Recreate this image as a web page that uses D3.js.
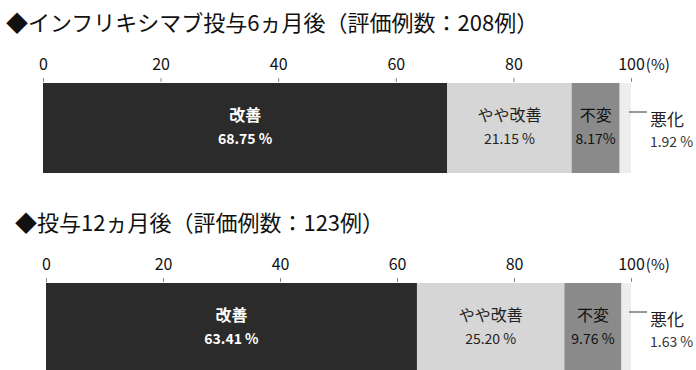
<!DOCTYPE html>
<html><head><meta charset="utf-8">
<script src="https://cdn.jsdelivr.net/npm/d3@7"></script>
<style>
html,body{margin:0;padding:0;background:#fff;}
svg{display:block;}
text{font-family:"Noto Sans CJK JP","Noto Sans",sans-serif;}
</style></head>
<body>
<script>
const categories = ["改善", "やや改善", "不変", "悪化"];
const titles = ["◆インフリキシマブ投与6ヵ月後（評価例数：208例）", "◆投与12ヵ月後（評価例数：123例）"];
const values6 = [68.75, 21.15, 8.17, 1.92];
const values12 = [63.41, 25.20, 9.76, 1.63];
const labels6 = ["68.75 %", "21.15 %", "8.17%", "1.92 %"];
const labels12 = ["63.41 %", "25.20 %", "9.76 %", "1.63 %"];
const tickValues = [0, 20, 40, 60, 80, 100];

const W = 696, H = 370;
const svg = d3.select("body").append("svg").attr("width", W).attr("height", H);

const color = d3.scaleOrdinal().domain(categories).range(["#2b2b2b", "#d6d6d6", "#8a8a8a", "#ededed"]);
const textColor = d3.scaleOrdinal().domain(categories).range(["#ffffff", "#222222", "#111111", "#222222"]);

const blocks = [
  {title: titles[0], values: values6, labels: labels6, y0: 0, titleX: 6, x0: 43, x1: 631},
  {title: titles[1], values: values12, labels: labels12, y0: 200, titleX: 15, x0: 46, x1: 631}
];

const numFont = "Liberation Sans, Arial, sans-serif";

blocks.forEach(b => {
  const g = svg.append("g").attr("transform", `translate(0,${b.y0})`);
  g.append("text").attr("x", b.titleX).attr("y", 31)
    .attr("font-size", 22).attr("fill", "#111").text(b.title);

  const x = d3.scaleLinear().domain([0, 100]).range([b.x0, b.x1]);
  const axis = d3.axisTop(x).tickValues(tickValues).tickSize(4).tickPadding(8).tickFormat(d3.format("d"));
  const ag = g.append("g").attr("transform", "translate(0,82)").call(axis);
  ag.select(".domain").remove();
  ag.selectAll(".tick line").attr("stroke", "#888");
  ag.selectAll(".tick text").attr("font-size", 16).attr("fill", "#111")
    .attr("font-family", numFont);
  const last = ag.selectAll(".tick").filter(d => d === 100);
  const lt = last.select("text");
  const w = lt.node().getComputedTextLength();
  last.append("text").attr("x", w / 2 + 1).attr("y", -12)
    .attr("font-size", 15).attr("fill", "#111").attr("text-anchor", "start")
    .attr("font-family", numFont)
    .text("(%)");

  const barY = 83, barH = 90;
  let cum = 0;
  const segs = b.values.map((v, i) => {
    const s = {cat: categories[i], v, start: cum, end: cum + v, label: b.labels[i]};
    cum += v;
    return s;
  });
  g.selectAll("rect.seg").data(segs).join("rect").attr("class", "seg")
    .attr("x", d => x(d.start)).attr("y", barY)
    .attr("width", d => x(d.end) - x(d.start)).attr("height", barH)
    .attr("fill", d => color(d.cat));

  const inner = segs.slice(0, 3);
  const lg = g.selectAll("g.lbl").data(inner).join("g").attr("class", "lbl")
    .attr("transform", d => `translate(${(x(d.start) + x(d.end)) / 2},${barY + barH / 2})`);
  lg.append("text").attr("text-anchor", "middle").attr("y", -7)
    .attr("font-size", 16).attr("font-weight", d => d.cat === "改善" ? "bold" : "normal")
    .attr("fill", d => textColor(d.cat)).text(d => d.cat);
  lg.append("text").attr("text-anchor", "middle").attr("y", 16)
    .attr("font-size", 14).attr("font-weight", d => d.cat === "改善" ? "bold" : "normal")
    .attr("font-family", numFont)
    .attr("fill", d => textColor(d.cat)).text(d => d.label);

  const outer = segs[3];
  const ly = barY + 29;
  g.append("line").attr("x1", x(outer.end) - 2).attr("x2", x(outer.end) + 16)
    .attr("y1", ly).attr("y2", ly).attr("stroke", "#333").attr("stroke-width", 1);
  g.append("text").attr("x", x(outer.end) + 19).attr("y", ly + 14)
    .attr("font-size", 17).attr("fill", "#222").text(outer.cat);
  g.append("text").attr("x", x(outer.end) + 19).attr("y", ly + 35)
    .attr("font-size", 14).attr("fill", "#333")
    .attr("font-family", numFont)
    .text(outer.label);
});
</script>
</body></html>
